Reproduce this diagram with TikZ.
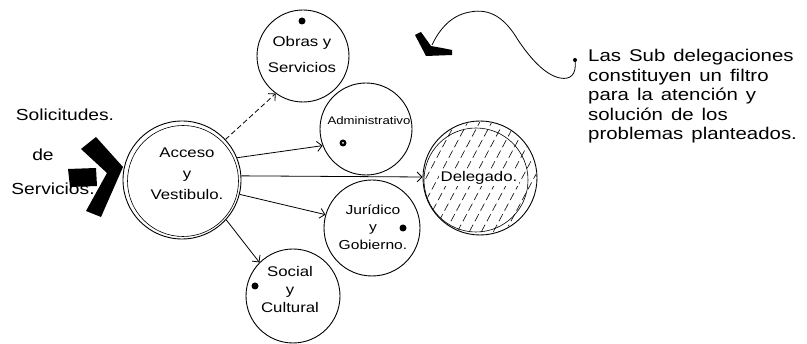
\documentclass[tikz,border=0pt]{standalone}
\usepackage{fontspec}
\newfontfamily\hand[FakeStretch=1.2]{Liberation Sans}
\newcommand\widesp{\spaceskip=8pt plus 2pt minus 1pt\relax}
\usetikzlibrary{arrows.meta}
\begin{document}
\begin{tikzpicture}[x=1pt,y=-1pt,
  ring/.style={circle, draw, line width=0.9pt, inner sep=0pt},
  lbl/.style={font=\hand\fontsize{14}{18}\selectfont, align=center, inner sep=0pt},
  link/.style={line width=0.8pt, -{Straight Barb[length=5pt,width=10pt]}},
  blot/.style={circle, fill=black, inner sep=0pt, minimum size=7pt},
  hatch/.style={line width=0.6pt, dash pattern=on 8pt off 4pt}]
\useasboundingbox (0,0) rectangle (807,344);
% hatching of Delegado
\begin{scope}
  \clip (480,178) circle (56pt);
  \foreach \i in {-150,-138,...,150}
    \draw[hatch] ({480+\i-40},253) -- ({480+\i+40},103);
\end{scope}
% circles
\node[ring, minimum size=118pt] (acc) at (182,180) {};
\node[ring, minimum size=111pt, line width=0.6pt] (acc2) at (183,181) {};
\node[ring, minimum size=92pt] (obr) at (303,56) {};
\node[ring, minimum size=92pt] (adm) at (366,129) {};
\node[ring, minimum size=114pt] (del) at (480,178) {};
\node[ring, minimum size=104pt, line width=0.6pt] (del2) at (476,180) {};
\node[ring, minimum size=96pt] (jur) at (372,228) {};
\node[ring, minimum size=94pt] (soc) at (293,296) {};
% labels
\node[lbl, font=\hand\fontsize{14}{21}\selectfont] (accl) at (187,174) {Acceso\\y\\Vestibulo.};
\node[lbl, font=\hand\fontsize{14}{26}\selectfont] (obrl) at (302,55) {Obras y\\Servicios};
\node[lbl, font=\hand\fontsize{11}{14}\selectfont] (adml) at (369,121) {Administrativo};
\node[lbl, fill=white, inner sep=1.5pt] (dell) at (479,178) {Delegado.};
\node[lbl, font=\hand\fontsize{13}{17.5}\selectfont] (jurl) at (373,227) {Jurídico\\y\\Gobierno.};
\node[lbl, font=\hand\fontsize{14}{18}\selectfont] (socl) at (290,289) {Social\\y\\Cultural};
% dots
\node[blot] (d1) at (302,21) {};
\node[blot] (d2) at (343,143) {};
\node[circle, fill=white, inner sep=0pt, minimum size=2pt] (d2c) at (343,143) {};
\node[blot] (d3) at (403,228) {};
\node[blot] (d4) at (255,286) {};
% connectors
\draw[link, dash pattern=on 5pt off 3pt] (acc.43) -- (obr.234);
\draw[link] (acc.22) -- (adm.201);
\draw[link] (acc.4) -- (del.179);
\draw[link] (acc.-14) -- (jur.164);
\draw[link] (acc.-42) -- (soc.135);
% left texts and big arrow
\node[lbl, font=\hand\fontsize{16}{18}\selectfont] (sol) at (65,115) {Solicitudes.};
\node[lbl, font=\hand\fontsize{16}{18}\selectfont] (de) at (43,155) {de};
\node[lbl, font=\hand\fontsize{16}{18}\selectfont] (ser) at (53,189) {Servicios.};
\fill (96,137) -- (123,167) -- (101,217) -- (86,211) -- (107,173) -- (81,149) -- cycle;
\fill (68,169) -- (96,168) -- (97,186) -- (70,187) -- cycle;
% note with curved pointer
\node[circle, fill=black, inner sep=0pt, minimum size=4pt] (cd) at (575,60) {};
\coordinate (tipc) at (432,45);
\draw[line width=0.8pt] (cd.center) .. controls (577,75) and (570,80) .. (560,78)
  .. controls (545,75) and (530,58) .. (518,40)
  .. controls (505,18) and (490,8) .. (470,12)
  .. controls (452,15) and (440,28) .. (tipc);
\fill (415,35) -- (421,32) -- (431,46) -- (442,48) -- (452,50) -- (452,55) -- (426,56) -- cycle;
\node[anchor=north west, inner sep=0pt, align=left,
  font=\hand\fontsize{17}{19.5}\selectfont\widesp] (note) at (588,49)
  {Las Sub delegaciones\\constituyen un filtro\\para la atención y\\solución de los\\problemas planteados.};
\end{tikzpicture}
\end{document}
